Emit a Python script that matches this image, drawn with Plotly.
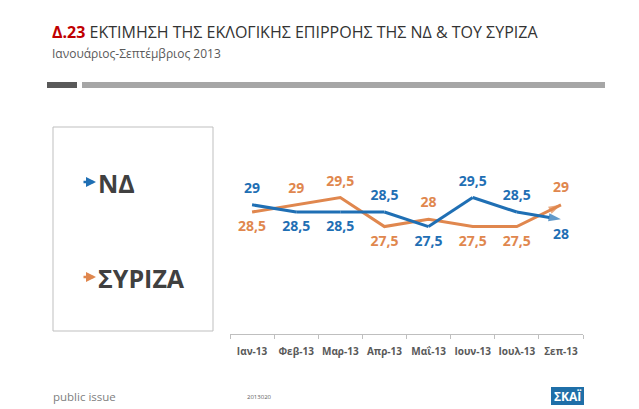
import plotly.graph_objects as go

months = ["Ιαν-13", "Φεβ-13", "Μαρ-13", "Απρ-13", "Μαΐ-13", "Ιουν-13", "Ιουλ-13", "Σεπ-13"]
nd = [29, 28.5, 28.5, 28.5, 27.5, 29.5, 28.5, 28]
syriza = [28.5, 29, 29.5, 27.5, 28, 27.5, 27.5, 29]
nd_pos = ["top center", "bottom center", "bottom center", "top center", "bottom center", "top center", "top center", "bottom center"]
sy_pos = ["bottom center", "top center", "top center", "bottom center", "top center", "bottom center", "bottom center", "top center"]

BLUE = "#1f6fb4"
ORANGE = "#e0874e"
W, H = 639, 409
L, R, T, B = 230, 583, 138, 334


def fx(px):
    return (px - L) / (R - L)


def fy(py):
    return (B - py) / (B - T)


def labels(vals):
    return [str(v).replace(".", ",") if v % 1 else str(int(v)) for v in vals]


fig = go.Figure()
for vals, pos, col in [(syriza, sy_pos, ORANGE), (nd, nd_pos, BLUE)]:
    n = len(vals)
    fig.add_trace(go.Scatter(
        x=months, y=vals, mode="lines+markers+text",
        line=dict(color=col, width=3),
        marker=dict(symbol=["circle"] * (n - 1) + ["arrow"], size=[12] * (n - 1) + [13],
                    angleref="previous", color=["rgba(0,0,0,0)"] * (n - 1) + [col],
                    line=dict(width=0)),
        text=labels(vals), textposition=pos,
        textfont=dict(family="Open Sans", size=14, color=col, weight="bold"),
        hoverinfo="skip", cliponaxis=False, showlegend=False,
    ))

fig.update_layout(
    width=W, height=H,
    margin=dict(l=L, r=W - R, t=T, b=H - B),
    paper_bgcolor="white", plot_bgcolor="white",
    xaxis=dict(type="category", range=[-0.5, 7.5], showline=True, linecolor="#bfbfbf",
               linewidth=1, ticks="outside", tickson="boundaries", ticklen=4,
               tickcolor="#bfbfbf", showgrid=False, zeroline=False, tickangle=0,
               ticklabelstandoff=8,
               tickfont=dict(family="Open Sans", size=10, color="#595959", weight="bold")),
    yaxis=dict(range=[20.1, 33.6], visible=False, showgrid=False, zeroline=False),
)

shapes = [
    dict(type="rect", xref="paper", yref="paper", x0=fx(47), x1=fx(77), y0=fy(82), y1=fy(88),
         fillcolor="#595959", line=dict(width=0)),
    dict(type="rect", xref="paper", yref="paper", x0=fx(82), x1=fx(605), y0=fy(82), y1=fy(88),
         fillcolor="#a6a6a6", line=dict(width=0)),
    dict(type="rect", xref="paper", yref="paper", x0=fx(53), x1=fx(213), y0=fy(127), y1=fy(331),
         fillcolor="rgba(0,0,0,0)", line=dict(color="#bfbfbf", width=1)),
    dict(type="rect", xref="paper", yref="paper", x0=fx(551), x1=fx(584), y0=fy(387), y1=fy(405),
         fillcolor="#1f6fa8", line=dict(width=0)),
]
fig.update_layout(shapes=shapes)

ann = []


def text(px, py, s, size, color, xanchor="left", weight="normal", family="Open Sans"):
    ann.append(dict(x=fx(px), y=fy(py), xref="paper", yref="paper", text=s, showarrow=False,
                    xanchor=xanchor, yanchor="middle",
                    font=dict(family=family, size=size, color=color, weight=weight)))


text(50, 32, "<span style='color:#c00000'><b>Δ.23</b></span> ΕΚΤΙΜΗΣΗ ΤΗΣ ΕΚΛΟΓΙΚΗΣ ΕΠΙΡΡΟΗΣ ΤΗΣ ΝΔ &amp; ΤΟΥ ΣΥΡΙΖΑ",
     16, "#333333", weight=500)
text(50, 53, "Ιανουάριος-Σεπτέμβριος 2013", 12, "#595959")
text(96, 183, "ΝΔ", 25, "#404040", weight="bold")
text(96, 278, "ΣΥΡΙΖΑ", 25, "#404040", weight="bold")
text(51, 396, "public issue", 11.5, "#808080")
text(259, 397, "2013020", 6, "#606060", xanchor="center")
text(567.5, 396, "ΣΚΑΪ", 12, "white", xanchor="center", weight="bold")

for py, col in [(182, BLUE), (277, ORANGE)]:
    ann.append(dict(x=fx(96), y=fy(py), xref="paper", yref="paper", ax=-14, ay=0,
                    showarrow=True, arrowhead=2, arrowsize=0.8, arrowwidth=2.5,
                    arrowcolor=col, text=""))

fig.update_layout(annotations=ann)
fig.write_html("out.html")
